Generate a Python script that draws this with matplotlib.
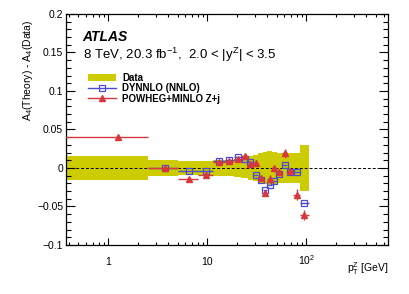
import numpy as np
import matplotlib
matplotlib.use("Agg")
import matplotlib.pyplot as plt
from matplotlib.lines import Line2D
from matplotlib.patches import Patch

plt.rcParams['font.family'] = ['Liberation Sans', 'DejaVu Sans']
plt.rcParams['mathtext.fontset'] = 'custom'
plt.rcParams['mathtext.rm'] = 'Liberation Sans'
plt.rcParams['mathtext.it'] = 'Liberation Sans:italic'
plt.rcParams['mathtext.bf'] = 'Liberation Sans:bold'
plt.rcParams['mathtext.default'] = 'regular'

# ---------------- data ----------------
bin_edges = [0.0, 2.5, 5.0, 8.0, 11.4, 14.9, 18.5, 22.0, 25.5, 29.0, 32.6, 36.4,
             40.4, 44.9, 50.2, 56.4, 63.9, 73.4, 85.4, 105.0]
data_unc = [0.016, 0.0105, 0.0095, 0.009, 0.010, 0.011, 0.012, 0.013, 0.015, 0.017,
            0.019, 0.021, 0.022, 0.021, 0.020, 0.020, 0.020, 0.020, 0.030]
dynnlo = [np.nan, 0.0, -0.0044, -0.0044, 0.0087, 0.0104, 0.0138, 0.012, 0.008, -0.0092,
          -0.0152, -0.029, -0.0218, -0.0174, -0.0078, 0.0043, -0.0048, -0.0057, -0.045]
powheg = [0.0404, 0.0, -0.014, -0.0096, 0.008, 0.0095, 0.012, 0.0157, 0.005, 0.006,
          -0.0135, -0.032, -0.0145, 0.0, -0.0055, 0.0193, -0.0044, -0.0345, -0.061]
powheg_err = [0.001, 0.001, 0.002, 0.002, 0.002, 0.002, 0.002, 0.003, 0.003, 0.004,
              0.004, 0.004, 0.005, 0.004, 0.004, 0.006, 0.004, 0.007, 0.007]
y_ticks = [-0.1, -0.05, 0.0, 0.05, 0.1, 0.15, 0.2]
y_tick_labels = ['\u22120.1', '\u22120.05', '0', '0.05', '0.1', '0.15', '0.2']
x_ticks = [1, 10, 100]
x_tick_labels = ['1', '10', '10$^{2}$']

# ---------------- derived ----------------
edges = np.array(bin_edges)
lo = edges[:-1]
hi = edges[1:]
centers = 0.5 * (lo + hi)
lo_draw = np.maximum(lo, 1e-2)
edges_draw = np.maximum(edges, 1e-2)
xerr = np.vstack([centers - lo_draw, hi - centers])
unc = np.array(data_unc)

YELLOW = '#cccc00'
BLUE = '#4b4bd6'
RED = '#d8383c'

fig = plt.figure(figsize=(4.09, 2.94), dpi=100)
ax = fig.add_axes([0.1614, 0.1667, 0.9487 - 0.1614, 0.9524 - 0.1667])
ax.set_xscale('log')

ax.stairs(unc, edges_draw, baseline=-unc, fill=True, color=YELLOW, lw=0, zorder=1)
ax.axhline(0.0, color='black', lw=0.7, ls=(0, (3, 2)), zorder=2)

ax.errorbar(centers, dynnlo, xerr=xerr, fmt='s', color=BLUE, mfc='none', mec=BLUE,
            ms=4.5, mew=0.9, elinewidth=1.0, capsize=0, zorder=3)
ax.errorbar(centers, powheg, xerr=xerr, yerr=powheg_err, fmt='^', color=RED, mfc=RED,
            mec=RED, ms=4.2, elinewidth=1.0, capsize=0, zorder=4)

ax.set_xlim(0.375, 665)
ax.set_ylim(-0.1, 0.2)

ax.set_yticks(y_ticks)
ax.set_yticklabels(y_tick_labels)
ax.yaxis.set_minor_locator(matplotlib.ticker.MultipleLocator(0.01))
ax.set_xticks(x_ticks)
ax.set_xticklabels(x_tick_labels)
ax.xaxis.set_minor_locator(matplotlib.ticker.LogLocator(base=10, subs=np.arange(2, 10)))
ax.xaxis.set_minor_formatter(matplotlib.ticker.NullFormatter())

ax.tick_params(which='both', direction='in', top=True, right=True, width=0.8,
               labelsize=7.5, colors='black')
ax.tick_params(axis='y', which='major', length=6.8, pad=2)
ax.tick_params(axis='y', which='minor', length=3.4)
ax.tick_params(axis='x', which='major', length=5.0, pad=14.5)
ax.tick_params(axis='x', which='minor', length=2.5)
for lab in ax.get_xticklabels():
    lab.set_verticalalignment('baseline')
for s in ax.spines.values():
    s.set_linewidth(0.9)

ax.set_ylabel('A$_{4}$(Theory) - A$_{4}$(Data)', fontsize=7.5, loc='top')
ax.yaxis.set_label_coords(-0.095, 1.0 - 6 / 231)
ax.set_xlabel('p$_{T}^{Z}$ [GeV]', fontsize=7.5, loc='right')
ax.xaxis.set_label_coords(1.0, -0.065)

ax.text(0.052, 0.900, 'ATLAS', transform=ax.transAxes, fontsize=10,
        fontweight='bold', fontstyle='italic', va='center', ha='left')
ax.text(0.052, 0.825, '8 TeV, 20.3 fb$^{-1}$,  2.0 < |y$^{Z}$| < 3.5',
        transform=ax.transAxes, fontsize=9.5, va='center', ha='left')

handles = [Patch(facecolor=YELLOW, edgecolor='none'),
           Line2D([], [], color=BLUE, marker='s', mfc='none', mec=BLUE, ms=4.5, mew=0.9, lw=1.0),
           Line2D([], [], color=RED, marker='^', mfc=RED, mec=RED, ms=4.2, lw=1.0)]
labels = ['Data', 'DYNNLO (NNLO)', 'POWHEG+MINLO Z+j']
ax.legend(handles, labels, loc='upper left', bbox_to_anchor=(0.068, 0.745),
          frameon=False, prop={'weight': 'bold', 'size': 7}, borderpad=0,
          borderaxespad=0, handlelength=2.9, handleheight=0.7, handletextpad=0.6,
          labelspacing=0.05)

fig.savefig('out.png', dpi=100)
